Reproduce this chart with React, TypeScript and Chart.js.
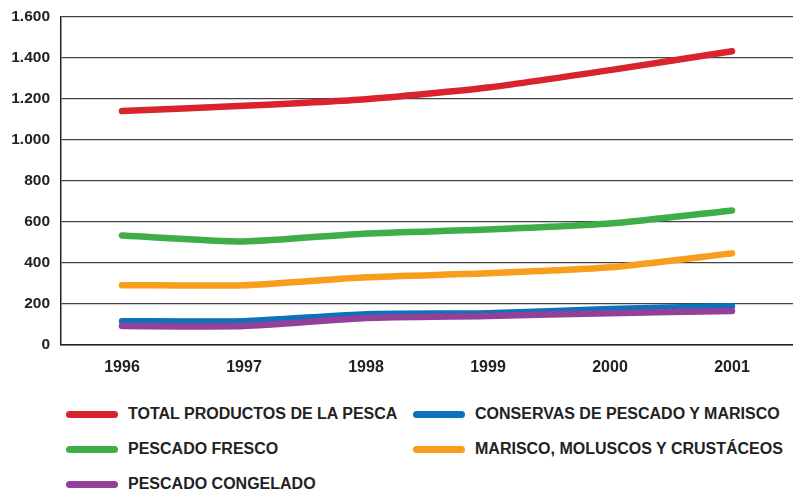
import React, { useEffect, useRef } from "react";
import { Chart, registerables } from "chart.js";

Chart.register(...registerables);

const years = ["1996", "1997", "1998", "1999", "2000", "2001"];
const totalProductos = [1139, 1164, 1196, 1253, 1338, 1430];
const pescadoFresco = [533, 504, 543, 562, 591, 655];
const marisco = [291, 291, 330, 349, 378, 446];
const conservas = [116, 116, 150, 155, 175, 189];
const congelado = [92, 92, 131, 141, 155, 165];

const seriesNames = [
  "TOTAL PRODUCTOS DE LA PESCA",
  "CONSERVAS DE PESCADO Y MARISCO",
  "PESCADO FRESCO",
  "MARISCO, MOLUSCOS Y CRUSTÁCEOS",
  "PESCADO CONGELADO",
];
const colors = {
  red: "#d9232d",
  blue: "#0b72bb",
  green: "#3fae49",
  orange: "#f99d1c",
  purple: "#93409a",
};

const FONT = "'Liberation Sans', Arial, Helvetica, sans-serif";

export default function App() {
  const ref = useRef<HTMLCanvasElement | null>(null);

  useEffect(() => {
    document.body.style.margin = "0";
    if (!ref.current) return;
    const mk = (label: string, data: number[], color: string) => ({
      label,
      data,
      borderColor: color,
      backgroundColor: color,
      borderWidth: 6.5,
      pointRadius: 0,
      tension: 0.2,
      borderCapStyle: "round" as const,
      borderJoinStyle: "round" as const,
      fill: false,
    });
    const chart = new Chart(ref.current, {
      type: "line",
      data: {
        labels: years,
        datasets: [
          mk(seriesNames[0], totalProductos, colors.red),
          mk(seriesNames[2], pescadoFresco, colors.green),
          mk(seriesNames[3], marisco, colors.orange),
          mk(seriesNames[4], congelado, colors.purple),
          mk(seriesNames[1], conservas, colors.blue),
        ],
      },
      options: {
        animation: false,
        responsive: false,
        maintainAspectRatio: false,
        layout: { padding: { top: 6, right: 0, left: 0, bottom: 0 } },
        plugins: { legend: { display: false }, tooltip: { enabled: false } },
        scales: {
          x: {
            offset: true,
            grid: { display: false, drawTicks: false },
            border: { display: true, color: "#222", width: 1.5 },
            ticks: {
              color: "#222",
              padding: 13,
              font: { family: FONT, size: 16, weight: "bold" },
            },
            afterFit: (s: any) => {
              s.height = 40;
            },
          },
          y: {
            min: 0,
            max: 1600,
            grid: { color: "#444", lineWidth: 1.2, drawTicks: false },
            border: { display: true, color: "#222", width: 1.5 },
            ticks: {
              stepSize: 200,
              color: "#222",
              padding: 11,
              font: { family: FONT, size: 15.5, weight: "bold" },
              callback: (v: any) =>
                String(v).replace(/\B(?=(\d{3})+(?!\d))/g, "."),
            },
            afterFit: (s: any) => {
              s.width = 61;
            },
          },
        },
      },
    });
    return () => chart.destroy();
  }, []);

  const legendItem = (
    name: string,
    color: string,
    left: number,
    top: number
  ) => (
    <div
      key={name}
      style={{
        position: "absolute",
        left,
        top: top - 11,
        height: 22,
        display: "flex",
        alignItems: "center",
        fontFamily: FONT,
        fontWeight: "bold",
        fontSize: 16,
        color: "#222",
        whiteSpace: "nowrap",
      }}
    >
      <span
        style={{
          display: "inline-block",
          width: 52,
          height: 7,
          borderRadius: 3.5,
          background: color,
          marginRight: 10,
        }}
      />
      {name}
    </div>
  );

  return (
    <div
      style={{
        position: "relative",
        width: 793,
        height: 490,
        background: "#fff",
        overflow: "hidden",
      }}
    >
      <canvas
        ref={ref}
        width={793}
        height={389}
        style={{ position: "absolute", left: 0, top: -4, width: 793, height: 389 }}
      />
      {legendItem(seriesNames[0], colors.red, 66, 414)}
      {legendItem(seriesNames[1], colors.blue, 413, 414)}
      {legendItem(seriesNames[2], colors.green, 66, 449)}
      {legendItem(seriesNames[3], colors.orange, 413, 449)}
      {legendItem(seriesNames[4], colors.purple, 66, 484)}
    </div>
  );
}
